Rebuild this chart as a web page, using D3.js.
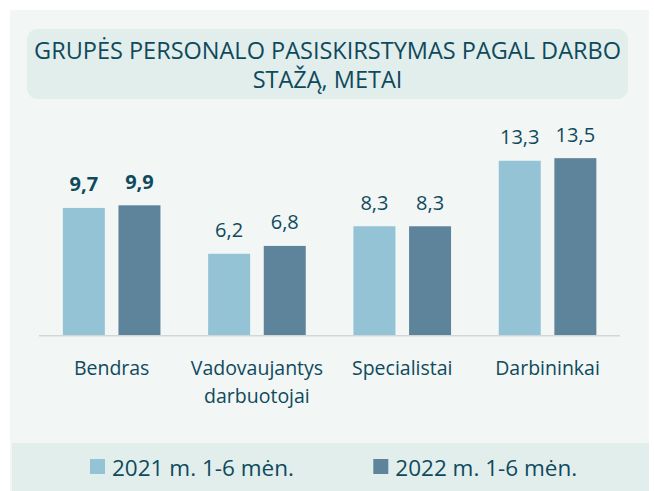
<!DOCTYPE html>
<html><head><meta charset="utf-8">
<script src="https://cdn.jsdelivr.net/npm/d3@7"></script>
<style>body{margin:0;background:#fff}svg{display:block}</style>
</head><body>
<svg id="c" width="654" height="491"></svg>
<script>
const categories = [["Bendras"], ["Vadovaujantys", "darbuotojai"], ["Specialistai"], ["Darbininkai"]];
const seriesNames = ["2021 m. 1-6 mėn.", "2022 m. 1-6 mėn."];
const values2021 = [9.7, 6.2, 8.3, 13.3];
const values2022 = [9.9, 6.8, 8.3, 13.5];
const valueLabels2021 = ["9,7", "6,2", "8,3", "13,3"];
const valueLabels2022 = ["9,9", "6,8", "8,3", "13,5"];
const boldCategory = [true, false, false, false];
const titleLines = ["GRUPĖS PERSONALO PASISKIRSTYMAS PAGAL DARBO", "STAŽĄ, METAI"];

const colors = ["#93c3d5", "#5e849c"];
const textColor = "#0f4a5c";
const font = "'Open Sans', sans-serif";

const svg = d3.select("#c");
svg.append("rect").attr("x",10).attr("y",10).attr("width",639).attr("height",481).attr("fill","#f2f6f5");
svg.append("rect").attr("x",27).attr("y",29).attr("width",601).attr("height",70).attr("rx",11).attr("fill","#e2eeec");
svg.append("rect").attr("x",12).attr("y",443).attr("width",637).attr("height",48).attr("fill","#e2eeec");

svg.append("g").selectAll("text").data(titleLines).join("text")
  .attr("x",327.5).attr("y",(d,i)=>58.5+i*29.5)
  .attr("text-anchor","middle").attr("fill",textColor)
  .style("font-family",font).style("font-size","23.5px").text(d=>d);

const baseY = 335;
const x = d3.scaleBand().domain(d3.range(categories.length)).range([39, 620.2]).paddingInner(0).paddingOuter(0);
const xs = d3.scaleBand().domain([0,1]).range([0, 97.6]).paddingInner(0.245);
const y = d3.scaleLinear().domain([0, 10]).range([baseY, baseY - 131]);

const data = categories.map((c,i)=>({i, vals:[values2021[i], values2022[i]], labs:[valueLabels2021[i], valueLabels2022[i]]}));
const g = svg.append("g").selectAll("g").data(data).join("g")
  .attr("transform", d=>`translate(${x(d.i) + x.bandwidth()/2 - 48.8},0)`);

g.selectAll("rect").data(d=>d.vals.map((v,k)=>({v,k}))).join("rect")
  .attr("x",d=>xs(d.k)).attr("width",xs.bandwidth())
  .attr("y",d=>y(d.v)).attr("height",d=>baseY - y(d.v))
  .attr("fill",d=>colors[d.k]);

g.selectAll("text.val").data(d=>d.vals.map((v,k)=>({v,k,lab:d.labs[k],bold:boldCategory[d.i]}))).join("text")
  .attr("class","val")
  .attr("x",d=>xs(d.k)+xs.bandwidth()/2).attr("y",d=>y(d.v)-16.5)
  .attr("text-anchor","middle").attr("fill",textColor)
  .style("font-family",font).style("font-size","20px")
  .style("font-weight",d=>d.bold?"700":"400").text(d=>d.lab);

svg.append("line").attr("x1",39).attr("x2",620).attr("y1",335.8).attr("y2",335.8)
  .attr("stroke","#d3d6d6").attr("stroke-width",1.5);

const cl = svg.append("g").selectAll("text").data(categories.map((c,i)=>({c,i}))).join("text")
  .attr("x",d=>x(d.i)+x.bandwidth()/2).attr("y",375)
  .attr("text-anchor","middle").attr("fill",textColor)
  .style("font-family",font).style("font-size","19.5px");
cl.selectAll("tspan").data(d=>d.c.map((t,j)=>({t,j,x:x(d.i)+x.bandwidth()/2}))).join("tspan")
  .attr("x",d=>d.x).attr("dy",d=>d.j===0?0:28.3).text(d=>d.t);

const legX = [90, 373.3];
const lg = svg.append("g").selectAll("g").data(seriesNames).join("g");
lg.append("rect").attr("x",(d,i)=>legX[i]).attr("y",459).attr("width",15).attr("height",15).attr("fill",(d,i)=>colors[i]);
lg.append("text").attr("x",(d,i)=>legX[i]+22).attr("y",475.5).attr("fill",textColor)
  .style("font-family",font).style("font-size","22.5px").text(d=>d);
</script>
</body></html>
